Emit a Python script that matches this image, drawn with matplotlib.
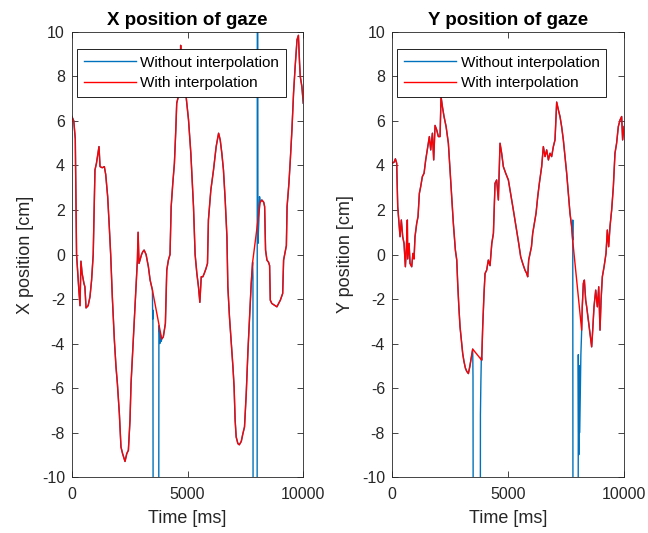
import numpy as np
import matplotlib
matplotlib.use("Agg")
import matplotlib.pyplot as plt

plt.rcParams['font.family'] = ['Liberation Sans', 'DejaVu Sans']
plt.rcParams['axes.unicode_minus'] = False

# X position of gaze, interpolated signal (time in ms, position in cm)
x_t = [0, 80, 145, 200, 300, 350, 390, 440, 520, 560, 610, 700, 780, 850, 920,
       996, 1060, 1170, 1215, 1310, 1400, 1460, 1545, 1615, 1675, 1746, 1835,
       1905, 1965, 2050, 2120, 2190, 2295, 2370, 2440, 2510, 2555, 2630, 2730,
       2830, 2860, 2900, 3010, 3060, 3120, 3205, 3305, 3380, 3480, 3880, 3950,
       4040, 4100, 4170, 4240, 4290, 4360, 4430, 4490, 4530, 4600, 4680, 4700,
       4720, 4850, 4935, 5040, 5140, 5255, 5325, 5400, 5470, 5530, 5590, 5660,
       5720, 5790, 5860, 5900, 6005, 6120, 6235, 6340, 6410, 6480, 6550, 6625,
       6700, 6740, 6810, 6870, 6960, 7010, 7055, 7100, 7175, 7235, 7320, 7390,
       7460, 7535, 7610, 7680, 7750, 7810, 8140, 8210, 8290, 8330, 8370, 8430,
       8500, 8545, 8575, 8640, 8790, 8860, 8935, 9010, 9110, 9150, 9270, 9300,
       9380, 9440, 9510, 9580, 9650, 9730, 9790, 9840, 9870, 9940, 10000]
x_v = [6.2, 6.0, 5.2, 0.0, -1.6, -2.3, -0.3, -0.85, -1.3, -1.45, -2.4, -2.3,
       -1.9, -1.15, 0.0, 3.8, 4.1, 4.85, 3.95, 3.9, 3.95, 3.6, 2.6, 1.25, 0.0,
       -1.9, -3.85, -5.05, -5.8, -7.15, -8.65, -8.95, -9.3, -8.95, -8.8, -7.45,
       -5.8, -4.3, -2.35, -0.25, 1.0, -0.4, 0.0, 0.12, 0.2, 0.0, -0.55, -1.15,
       -1.6, -3.8, -3.7, -3.1, -0.7, -0.25, 0.0, 2.15, 3.2, 4.1, 5.6, 6.8, 7.1,
       7.85, 9.4, 7.85, 7.85, 7.1, 6.05, 4.55, 2.15, 0.0, -0.85, -1.45, -2.15,
       -1.0, -1.0, -0.85, -0.65, -0.4, 1.55, 2.9, 3.8, 4.85, 5.45, 5.15, 4.55,
       3.8, 2.45, 0.8, -1.45, -2.8, -3.7, -5.05, -5.95, -7.45, -8.2, -8.5, -8.55,
       -8.4, -8.05, -7.75, -6.25, -4.3, -2.8, -1.3, -0.35, 2.35, 2.45, 2.35,
       2.15, 0.2, -0.25, -0.35, -0.5, -2.05, -2.2, -2.3, -2.35, -2.2, -2.05,
       -1.75, -0.25, 0.4, 2.15, 3.2, 4.25, 5.6, 7.25, 8.45, 9.65, 9.85, 8.6,
       8.0, 7.55, 6.8]

# raw X signal inside the two tracking losses (off-scale samples = lost gaze)
x_gap1_t = [3490, 3500, 3530, 3740, 3760, 3790, 3800, 3830, 3860]
x_gap1_v = [-2.9, -2.5, -30, -30, -3.2, -3.5, -4.0, -3.6, -3.9]
x_gap2_t = [7825, 7840, 8000, 8020, 8040, 8080, 8110]
x_gap2_v = [-1.0, -30, -30, 30, 0.5, 1.5, 2.6]

# Y position of gaze, interpolated signal
y_t = [0, 90, 145, 200, 245, 300, 345, 400, 460, 517, 575, 620, 660, 675, 735,
       775, 848, 900, 948, 990, 1063, 1120, 1178, 1235, 1307, 1380, 1451, 1520,
       1609, 1667, 1740, 1796, 1854, 1925, 1997, 2070, 2112, 2170, 2241, 2330,
       2428, 2500, 2570, 2643, 2730, 2790, 2830, 2880, 2931, 2990, 3046, 3100,
       3161, 3220, 3290, 3350, 3420, 3477, 3865, 3908, 3965, 4010, 4080, 4150,
       4224, 4300, 4370, 4440, 4510, 4583, 4655, 4725, 4798, 4900, 5014, 5110,
       5229, 5345, 5460, 5545, 5632, 5730, 5804, 5847, 5890, 5948, 6010, 6063,
       6135, 6207, 6280, 6350, 6450, 6522, 6595, 6666, 6740, 6810, 6880, 6954,
       7025, 7097, 7170, 7240, 7310, 7384, 7455, 7528, 7600, 7671, 7743, 7786,
       8174, 8200, 8246, 8290, 8347, 8390, 8462, 8530, 8605, 8650, 8706, 8780,
       8850, 8910, 8965, 9010, 9065, 9140, 9224, 9280, 9338, 9395, 9467, 9540,
       9610, 9680, 9754, 9830, 9898, 9940, 10000]
y_v = [4.1, 4.15, 4.3, 4.1, 2.15, 1.4, 0.8, 1.55, 0.8, 0.5, -0.55, 0.35, 1.55,
       -0.2, 0.5, -0.4, -0.55, 0.05, -0.2, 0.8, 1.4, 1.7, 2.75, 3.05, 3.5, 3.65,
       4.25, 4.7, 5.3, 4.7, 5.45, 4.25, 5.8, 5.6, 5.3, 5.3, 7.1, 6.65, 6.2,
       5.75, 5.0, 3.8, 2.6, 1.4, 0.2, -0.25, -1.3, -2.35, -3.25, -3.85, -4.45,
       -4.8, -5.1, -5.25, -5.35, -5.05, -4.6, -4.25, -4.75, -3.25, -1.75, -0.85,
       -0.7, -0.25, -0.5, 0.5, 0.95, 3.2, 3.35, 2.45, 5.0, 4.55, 3.95, 3.65,
       3.35, 2.75, 2.0, 1.25, 0.5, -0.1, -0.4, -0.7, -0.85, -1.0, -0.25, 0.05,
       0.35, 0.95, 1.4, 1.85, 2.6, 3.2, 3.95, 4.85, 4.4, 4.7, 4.25, 4.55, 4.4,
       4.85, 5.15, 6.85, 6.5, 6.2, 5.75, 5.15, 4.4, 3.65, 2.75, 1.85, 1.25, 0.65,
       -3.4, -2.35, -1.3, -1.15, -2.05, -2.35, -2.95, -3.55, -4.15, -3.4, -2.35,
       -1.6, -2.35, -1.45, -3.4, -2.05, -1.0, -0.55, 0.05, 1.1, 0.35, 1.25, 2.0,
       3.05, 4.55, 5.0, 5.75, 6.05, 6.2, 5.15, 5.75]

# raw Y signal inside the two tracking losses
y_gap1_t = [3490, 3520, 3795, 3810, 3830, 3850]
y_gap1_v = [-5.5, -30, -30, -7.2, -5.7, -4.6]
y_gap2_t = [7790, 7810, 8010, 8030, 8050, 8070, 8090, 8110, 8140]
y_gap2_v = [1.55, -30, -30, -4.5, -9.0, -5.0, -8.0, -6.5, -4.5]


def raw_signal(t, v, gaps):
    # put the lost samples back in place of the interpolated stretch
    t = np.asarray(t, float)
    v = np.asarray(v, float)
    keep = np.ones(len(t), bool)
    for gt, gv in gaps:
        keep &= ~((t > min(gt)) & (t < max(gt)))
    bt = np.concatenate([t[keep]] + [np.asarray(g[0], float) for g in gaps])
    bv = np.concatenate([v[keep]] + [np.asarray(g[1], float) for g in gaps])
    order = np.argsort(bt, kind="stable")
    return bt[order], bv[order]


blue = '#0072BD'
dark = '#262626'

fig = plt.figure(figsize=(6.48, 5.33), dpi=100)
ax1 = fig.add_axes([0.111, 0.105, 0.357, 0.835])
ax2 = fig.add_axes([0.605, 0.105, 0.358, 0.835])

panels = [
    (ax1, x_t, x_v, [(x_gap1_t, x_gap1_v), (x_gap2_t, x_gap2_v)],
     'X position of gaze', 'X position [cm]'),
    (ax2, y_t, y_v, [(y_gap1_t, y_gap1_v), (y_gap2_t, y_gap2_v)],
     'Y position of gaze', 'Y position [cm]'),
]

for ax, t, v, gaps, title, ylabel in panels:
    bt, bv = raw_signal(t, v, gaps)
    ax.plot(bt, bv, color=blue, lw=1.0, label='Without interpolation')
    ax.plot(t, v, color='red', lw=1.0, label='With interpolation')
    ax.set_xlim(0, 10000)
    ax.set_ylim(-10, 10)
    ax.set_xticks([0, 5000, 10000])
    ax.set_yticks(np.arange(-10, 11, 2))
    ax.tick_params(direction='in', top=True, right=True, labelsize=11.5,
                   colors=dark, length=4, width=0.6, pad=5)
    ax.tick_params(axis='x', pad=7)
    for s in ax.spines.values():
        s.set_color(dark)
        s.set_linewidth(0.6)
    ax.set_title(title, fontsize=13.5, fontweight='bold', pad=5)
    ax.set_xlabel('Time [ms]', fontsize=13, color=dark, labelpad=6)
    ax.set_ylabel(ylabel, fontsize=13, color=dark, labelpad=6)
    leg = ax.legend(loc='upper left', bbox_to_anchor=(0.022, 0.962),
                    borderaxespad=0, fontsize=11, handlelength=3.4,
                    fancybox=False, framealpha=1, borderpad=0.45,
                    labelspacing=0.4, handletextpad=0.3)
    leg.get_frame().set_edgecolor('black')
    leg.get_frame().set_linewidth(0.6)

fig.savefig('out.png', dpi=100)
